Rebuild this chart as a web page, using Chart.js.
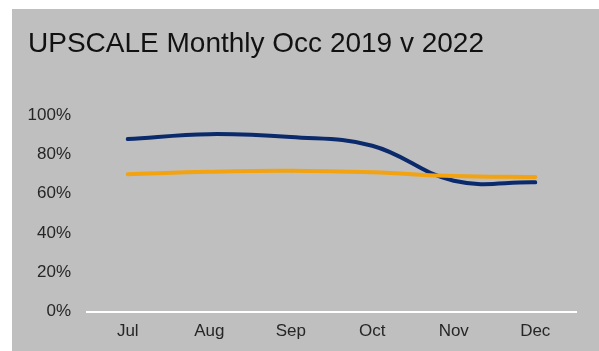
<!DOCTYPE html>
<html>
<head>
<meta charset="utf-8">
<script src="https://cdn.jsdelivr.net/npm/chart.js@4"></script>
<style>
  html, body { margin: 0; padding: 0; background: #ffffff; }
  body { width: 599px; height: 351px; position: relative; overflow: hidden; }
  #panel { position: absolute; left: 12px; top: 9px; width: 587px; height: 342px; background: #bfbfbf; }
  canvas { display: block; }
</style>
</head>
<body>
<div id="panel"><canvas id="chart" width="587" height="342"></canvas></div>
<script>
// Monthly occupancy, upscale segment (percent)
const months = ['Jul', 'Aug', 'Sep', 'Oct', 'Nov', 'Dec'];
const occ2019 = [87.8, 90.3, 88.8, 84.4, 66.6, 65.8];
const occ2022 = [69.9, 71.2, 71.7, 70.9, 69.0, 68.5];
const yTicks = [0, 20, 40, 60, 80, 100];

const FONT = "'Liberation Sans', Arial, sans-serif";

new Chart(document.getElementById('chart'), {
  type: 'line',
  data: {
    labels: months,
    datasets: [
      {
        label: '2022',
        data: occ2022,
        borderColor: '#f2a30f',
        borderWidth: 4,
        borderCapStyle: 'round',
        tension: 0.4,
        pointRadius: 0,
        fill: false
      },
      {
        label: '2019',
        data: occ2019,
        borderColor: '#0b2a6b',
        borderWidth: 4,
        borderCapStyle: 'round',
        tension: 0.4,
        pointRadius: 0,
        fill: false
      }
    ]
  },
  options: {
    responsive: false,
    animation: false,
    devicePixelRatio: 1,
    layout: { padding: { left: 16, right: 23, top: 0, bottom: 0 } },
    plugins: {
      legend: { display: false },
      tooltip: { enabled: false },
      title: {
        display: true,
        text: 'UPSCALE Monthly Occ 2019 v 2022',
        align: 'start',
        color: '#111111',
        font: { family: FONT, size: 28, weight: 'normal' },
        padding: { top: 18.5, bottom: 54 }
      }
    },
    scales: {
      x: {
        offset: true,
        grid: { display: false, drawTicks: false },
        border: { display: true, color: '#ffffff', width: 2 },
        ticks: {
          color: '#262626',
          font: { family: FONT, size: 17 },
          padding: 9
        },
        afterFit: (s) => { s.height = 39.3; }
      },
      y: {
        min: 0,
        max: 100,
        grid: { display: false, drawTicks: false },
        border: { display: false },
        afterBuildTicks: (s) => { s.ticks = yTicks.map(v => ({ value: v })); },
        ticks: {
          color: '#262626',
          font: { family: FONT, size: 17 },
          padding: 16,
          callback: (v) => v + '%'
        },
        afterFit: (s) => { s.width = 59; }
      }
    }
  }
});
</script>
</body>
</html>
